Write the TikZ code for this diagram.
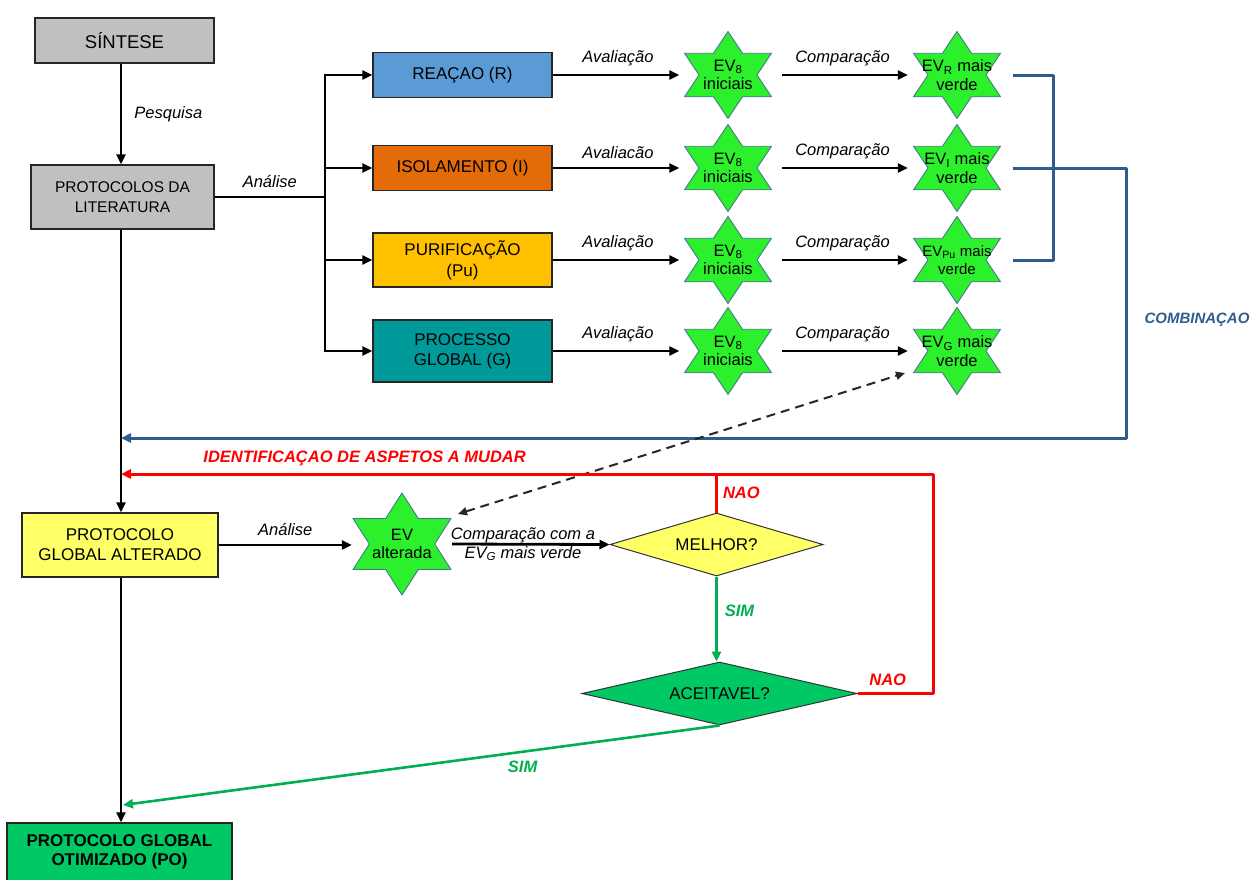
\documentclass[tikz,border=0pt]{standalone}
\usepackage{fontspec}
\setmainfont{Liberation Sans}
\usetikzlibrary{arrows.meta,shapes.geometric,calc}

\definecolor{boxgray}{RGB}{192,192,192}
\definecolor{rblue}{RGB}{91,155,213}
\definecolor{iorange}{RGB}{227,108,9}
\definecolor{pugold}{RGB}{255,192,0}
\definecolor{gteal}{RGB}{0,153,153}
\definecolor{starfill}{RGB}{45,240,45}
\definecolor{starline}{RGB}{70,120,140}
\definecolor{paleyellow}{RGB}{255,255,102}
\definecolor{okgreen}{RGB}{0,200,100}
\definecolor{simgreen}{RGB}{0,176,80}
\definecolor{combblue}{RGB}{46,92,140}
\definecolor{nored}{RGB}{255,0,0}

\pgfdeclarelayer{background}
\pgfsetlayers{background,main}

\newcommand{\pxfont}[2]{\fontsize{#1}{#2}\selectfont}

% six-pointed star of half sizes #2 x #3 centred on node #1
\newcommand{\starshape}[3]{%
  \begin{scope}[shift={(#1.center)}]
    \filldraw[fill=starfill, draw=starline, line width=0.9pt, line join=round]
      (0,-#3) -- ({#2/3},{-#3/2}) -- (#2,{-#3/2}) -- ({2*#2/3},0)
      -- (#2,{#3/2}) -- ({#2/3},{#3/2}) -- (0,#3) -- ({-#2/3},{#3/2})
      -- (-#2,{#3/2}) -- ({-2*#2/3},0) -- (-#2,{-#3/2}) -- ({-#2/3},{-#3/2})
      -- cycle;
  \end{scope}}

\tikzset{
  box/.style={draw=black!85, line width=1.3pt, rectangle, inner sep=0pt,
    align=center, font=\pxfont{17}{20}},
  lbl/.style={font=\itshape\pxfont{16.5}{19}, inner sep=0pt},
  tip/.style={-{Triangle[length=10pt,width=9pt]}},
  arr/.style={line width=2.8pt, tip},
  plain/.style={line width=2.8pt, line cap=rect},
  bline/.style={line width=3pt, draw=combblue, line join=round},
  rline/.style={line width=3pt, draw=nored, line join=round},
  gline/.style={line width=2.6pt, draw=simgreen},
  nolbl/.style={font=\bfseries\itshape\pxfont{16.5}{19}, text=nored, inner sep=0pt},
  simlbl/.style={font=\bfseries\itshape\pxfont{16.5}{19}, text=simgreen, inner sep=0pt},
  ask/.style={diamond, draw=black!80, line width=1pt, inner sep=0pt,
    font=\pxfont{17}{20}},
  evstar/.style 2 args={rectangle, inner sep=0pt, align=center,
    minimum width=2*#1+2, minimum height=2*#2+2, font=\pxfont{16.5}{18.5}},
}

\begin{document}
\begin{tikzpicture}[x=1pt,y=-1pt]
\useasboundingbox (0,0) rectangle (1254,879);

% ---------- left column ----------
\node[box, fill=boxgray, minimum width=179, minimum height=45,
      font=\pxfont{18.5}{22}] (sint) at (124.5,40.5) {SÍNTESE};
\node[box, fill=boxgray, minimum width=183, minimum height=64,
      font=\pxfont{15.5}{20}] (pl) at (122.5,197) {PROTOCOLOS DA\\LITERATURA};
\node[box, fill=paleyellow, minimum width=196, minimum height=64]
      (pga) at (120,545) {PROTOCOLO\\GLOBAL ALTERADO};
\node[box, fill=okgreen, minimum width=225, minimum height=58,
      font=\bfseries\pxfont{17}{18.5}] (po) at (119.5,852)
      {PROTOCOLO GLOBAL\\OTIMIZADO (PO)};

% ---------- stage boxes ----------
\node[box, fill=rblue, minimum width=179, minimum height=45] (bR) at (462.5,75) {REAÇAO (R)};
\node[box, fill=iorange, minimum width=179, minimum height=45] (bI) at (462.5,168) {ISOLAMENTO (I)};
\node[box, fill=pugold, minimum width=179, minimum height=54,
      font=\pxfont{17}{21}] (bP) at (462.5,260) {PURIFICAÇÃO\\(Pu)};
\node[box, fill=gteal, minimum width=179, minimum height=62] (bG) at (462.5,351) {PROCESSO\\GLOBAL (G)};

% ---------- green stars (text nodes; star outlines on the background layer) ----------
\node[evstar={43.5}{43.5}] (sR1) at (728,75) {EV\textsubscript{8}\\iniciais};
\node[evstar={43.5}{43.5}] (sI1) at (728,168) {EV\textsubscript{8}\\iniciais};
\node[evstar={43.5}{43.5}] (sP1) at (728,260) {EV\textsubscript{8}\\iniciais};
\node[evstar={43.5}{43.5}] (sG1) at (728,351) {EV\textsubscript{8}\\iniciais};
\node[evstar={43.5}{43.5}] (sR2) at (957,75) {EV\textsubscript{R} mais\\verde};
\node[evstar={43.5}{43.5}] (sI2) at (957,168) {EV\textsubscript{I} mais\\verde};
\node[evstar={43.5}{43.5}, font=\pxfont{15}{18}] (sP2) at (957,260) {EV\textsubscript{Pu} mais\\verde};
\node[evstar={43.5}{43.5}] (sG2) at (957,351) {EV\textsubscript{G} mais\\verde};
\node[evstar={49}{51}] (sA) at (402,544) {EV\\alterada};

\begin{pgfonlayer}{background}
  \foreach \s in {sR1,sI1,sP1,sG1,sR2,sI2,sP2,sG2} {\starshape{\s}{43.5}{43.5}}
  \starshape{sA}{49}{51}
\end{pgfonlayer}

% ---------- decisions ----------
\node[ask, fill=paleyellow, aspect=3.38, minimum width=213, minimum height=63]
      (mel) at (716.5,544.5) {MELHOR?};
\node[ask, fill=okgreen, aspect=4.37, minimum width=275, minimum height=63]
      (ace) at (719.5,693.5) {ACEITAVEL?};

% ---------- helper points ----------
\coordinate (spine) at (121,0);
\coordinate (bus) at (325,0);
\coordinate (jn) at (1053,0);
\coordinate (cmb) at (1126,438);
\coordinate (rc) at (933,474);
\coordinate (poin) at (123,805);

% ---------- main spine ----------
\draw[arr] (spine |- sint.south) -- (spine |- pl.north)
  node[midway, right=12pt, lbl] {Pesquisa};
\draw[arr] (spine |- pl.south) -- (spine |- pga.north);
\draw[arr] (spine |- pga.south) -- (spine |- po.north);

% ---------- analysis branches ----------
\draw[line width=2.8pt] (pl.east) -- (pl.east -| bus)
  node[midway, above=8pt, lbl] {Análise};
\draw[plain] (bus |- bR.west) -- (bus |- bG.west);
\draw[arr] (bus |- bR.west) -- (bR.west);
\draw[arr] (bus |- bI.west) -- (bI.west);
\draw[arr] (bus |- bP.west) -- (bP.west);
\draw[arr] (bus |- bG.west) -- (bG.west);

% ---------- evaluation ----------
\draw[arr, shorten >=4pt] (bR.east) -- (sR1.west) node[midway, above=8pt, lbl] {Avaliação};
\draw[arr, shorten >=4pt] (bI.east) -- (sI1.west) node[midway, above=8pt, lbl] {Avaliacão};
\draw[arr, shorten >=4pt] (bP.east) -- (sP1.west) node[midway, above=8pt, lbl] {Avaliação};
\draw[arr, shorten >=4pt] (bG.east) -- (sG1.west) node[midway, above=8pt, lbl] {Avaliação};

% ---------- comparison ----------
\draw[arr, shorten <=9.5pt, shorten >=4.5pt] (sR1.east) -- (sR2.west) node[midway, above=8pt, lbl] {Comparação};
\draw[arr, shorten <=9.5pt, shorten >=4.5pt] (sI1.east) -- (sI2.west) node[midway, above=8pt, lbl] {Comparação};
\draw[arr, shorten <=9.5pt, shorten >=4.5pt] (sP1.east) -- (sP2.west) node[midway, above=8pt, lbl] {Comparação};
\draw[arr, shorten <=9.5pt, shorten >=4.5pt] (sG1.east) -- (sG2.west) node[midway, above=8pt, lbl] {Comparação};

% ---------- combination ----------
\draw[bline] ([xshift=11pt]sR2.east) -| (jn |- sP2.east) -- ([xshift=11pt]sP2.east);
\draw[bline, tip] ([xshift=11pt]sI2.east) -| (cmb) -- (spine |- cmb);
\node[font=\bfseries\itshape\pxfont{15}{18}, text=combblue, inner sep=0pt]
  (comb) at (1197,320) {COMBINAÇAO};

% ---------- altered protocol ----------
\draw[arr] (pga.east) -- (pga.east -| sA.west) node[midway, above=8pt, lbl] {Análise};
\draw[arr] (sA.east) -- (mel.west)
  node[pos=0.45, lbl, align=center, font=\itshape\pxfont{16.5}{19}]
  {Comparação com a\\EV\textsubscript{G} mais verde};
\draw[line width=2pt, draw=black!85, dash pattern=on 9pt off 6pt,
      {Triangle[length=9pt,width=8pt]}-{Triangle[length=9pt,width=8pt]}]
  ($(sA.center)+(56,-30)$) -- ($(sG2.center)+(-52,22)$);

% ---------- decision loops ----------
\draw[rline] (mel.north) -- (mel.north |- rc)
  node[midway, right=5pt, nolbl] {NAO};
\draw[rline, tip] (ace.east) -- (ace.east -| rc)
  node[pos=0.4, above=6pt, nolbl] {NAO}
  -- (rc) -- (spine |- rc)
  node[pos=0.7, above=7pt, nolbl] {IDENTIFICAÇAO DE ASPETOS A MUDAR};
\draw[gline, tip] (mel.south) -- (mel.south |- ace.north)
  node[pos=0.4, right=7pt, simlbl] {SIM};
\draw[gline, tip] (ace.south) -- (poin)
  node[pos=0.33, below=8pt, simlbl] {SIM};
\end{tikzpicture}
\end{document}
